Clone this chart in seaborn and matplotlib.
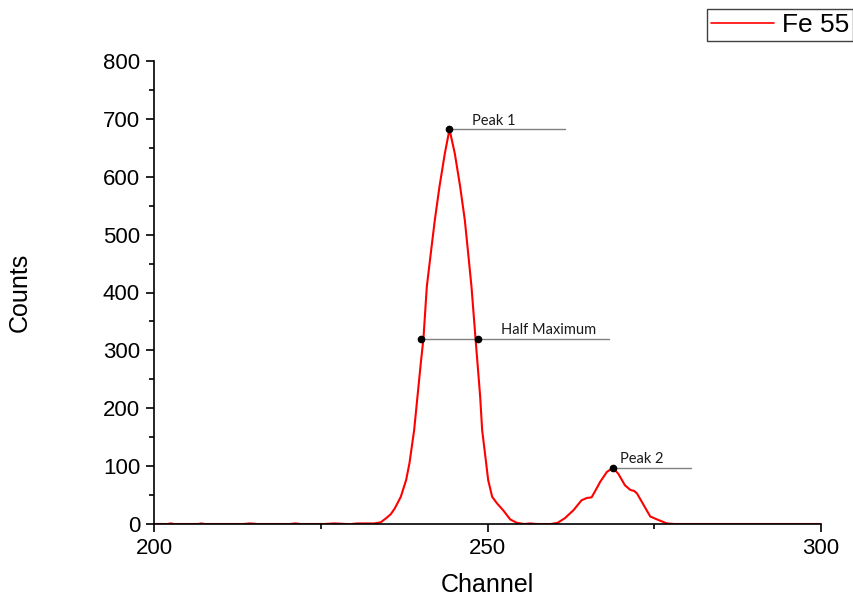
"""
Fe 55 能谱 - 峰位与半高宽标注
"""

import numpy as np
import pandas as pd
import matplotlib
matplotlib.use('Agg')
import matplotlib.pyplot as plt
import matplotlib.ticker as ticker
import seaborn as sns

# ---- 数据 ----
channel = [200, 202, 202.5, 203, 206.6, 207.1, 207.6, 213.4, 214.4, 215.4,
           220.4, 221.2, 221.9, 225.5, 227.0, 228.8, 229.6, 230.5, 232.0,
           233.0, 234.0, 234.8, 235.5, 236.1, 237.0, 237.8, 238.3, 239.0,
           239.5, 240.0, 240.4, 240.9, 241.5, 242.1, 242.8, 243.6, 244.3,
           245.1, 245.9, 246.6, 247.1, 247.6, 248.2, 248.5, 248.9, 249.2,
           249.8, 250.1, 250.7, 251.4, 252.4, 253.4, 254.4, 255.5, 256.4,
           257.3, 259.5, 260.5, 261.6, 262.9, 264.1, 264.9, 265.6, 266.1,
           266.9, 267.9, 268.8, 269.6, 270.6, 271.4, 272.0, 272.4, 273.4,
           274.4, 275.6, 276.9, 278.0, 300]
counts = [0, 0, 1, 0, 0, 1, 0, 0, 1, 0,
          0, 1, 0, 0, 1, 0, 0, 1, 1,
          1, 3, 10, 17, 27, 47, 76, 105, 162,
          220, 278, 321, 410, 468, 525, 583, 640, 682,
          640, 583, 525, 468, 410, 321, 278, 220, 162,
          105, 76, 47, 36, 23, 8, 2, 0, 1,
          0, 0, 2, 10, 24, 41, 45, 46, 56,
          73, 90, 97, 87, 67, 59, 57, 53, 33,
          13, 7, 1, 0, 0]

peak1 = (244.3, 682)
half_max_x = [240.0, 248.6]
half_max_y = 320
peak2 = (268.8, 97)
line_end = [261.6, 268.2, 280.5]   # 标注横线右端

df = pd.DataFrame({'Channel': channel, 'Counts': counts})

sns.set_style('ticks')
plt.rcParams['font.family'] = ['Liberation Sans', 'DejaVu Sans']
plt.rcParams['text.color'] = 'black'
plt.rcParams['axes.labelcolor'] = 'black'
plt.rcParams['xtick.color'] = 'black'
plt.rcParams['ytick.color'] = 'black'

fig = plt.figure(figsize=(8.54, 5.99), dpi=100)
ax = fig.add_axes([154 / 854, 1 - 524 / 599, 667 / 854, 463 / 599])

sns.lineplot(data=df, x='Channel', y='Counts', ax=ax, color='#ff0000',
             linewidth=1.5, label='Fe 55', sort=False)

# 标注
gray = '#808080'
ax.plot([peak1[0], line_end[0]], [peak1[1], peak1[1]], color=gray, lw=1)
ax.plot([half_max_x[0], line_end[1]], [half_max_y, half_max_y], color=gray, lw=1)
ax.plot([peak2[0], line_end[2]], [peak2[1], peak2[1]], color=gray, lw=1)
ax.plot([peak1[0]] + half_max_x + [peak2[0]],
        [peak1[1], half_max_y, half_max_y, peak2[1]],
        'o', color='black', ms=4.5, zorder=5)

ann_font = dict(family=['Lato', 'DejaVu Sans'], fontsize=10.5, va='bottom',
                color='#1a1a1a')
ax.text(247.7, peak1[1] + 3, 'Peak 1', **ann_font)
ax.text(252.0, half_max_y + 3, 'Half Maximum', **ann_font)
ax.text(269.8, peak2[1] + 3, 'Peak 2', **ann_font)

ax.set_xlim(200, 300)
ax.set_ylim(0, 800)
ax.xaxis.set_major_locator(ticker.MultipleLocator(50))
ax.xaxis.set_minor_locator(ticker.MultipleLocator(25))
ax.yaxis.set_major_locator(ticker.MultipleLocator(100))
ax.yaxis.set_minor_locator(ticker.MultipleLocator(50))
ax.tick_params(which='major', direction='out', length=6, width=1.2,
               labelsize=16, color='black', pad=4)
ax.tick_params(which='minor', direction='out', length=3.5, width=1.2, color='black')
for s in ['left', 'bottom']:
    ax.spines[s].set_linewidth(1.2)
    ax.spines[s].set_color('black')
sns.despine(ax=ax)

ax.set_xlabel('Channel', fontsize=18)
ax.set_ylabel('Counts', fontsize=18)
ax.xaxis.set_label_coords(0.5, -0.105)
ax.yaxis.set_label_coords(-0.183, 0.5)

ax.legend(loc='upper left', bbox_to_anchor=(707 / 854, 1 - 9 / 599),
          bbox_transform=fig.transFigure, fontsize=19, frameon=True,
          fancybox=False, edgecolor='#404040', framealpha=1,
          handlelength=2.4, handletextpad=0.3, borderpad=0.15,
          borderaxespad=0)
ax.get_legend().get_frame().set_linewidth(1)
for line in ax.get_legend().get_lines():
    line.set_linewidth(1.2)

fig.savefig('out.png', dpi=100)
